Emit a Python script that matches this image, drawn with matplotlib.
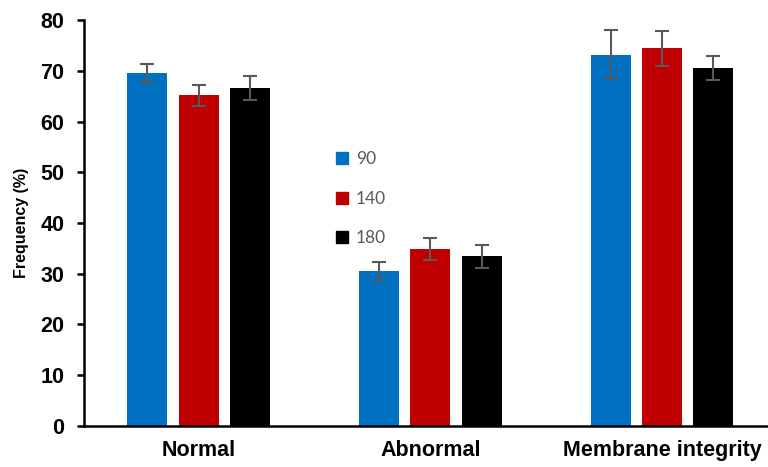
import numpy as np
import matplotlib.pyplot as plt
from matplotlib.lines import Line2D

categories = ['Normal', 'Abnormal', 'Membrane integrity']
series = ['90', '140', '180']
vals_90 = [69.6, 30.5, 73.2]
vals_140 = [65.2, 34.9, 74.4]
vals_180 = [66.6, 33.4, 70.5]
err_90 = [1.8, 1.85, 4.75]
err_140 = [2.1, 2.1, 3.4]
err_180 = [2.3, 2.35, 2.4]
colors = ['#0070C0', '#C00000', '#000000']

fig = plt.figure(figsize=(7.68, 4.67), dpi=100)
ax = fig.add_axes([0.109, 0.088, 0.891, 0.869])

x = np.arange(len(categories))
w = 0.173
step = 0.222
handles = []
for i, (v, e, c) in enumerate(zip([vals_90, vals_140, vals_180],
                                  [err_90, err_140, err_180], colors)):
    ax.bar(x + (i - 1) * step, v, width=w, color=c, zorder=2)
    ax.errorbar(x + (i - 1) * step, v, yerr=e, fmt='none', ecolor='#595959',
                elinewidth=1.5, capsize=5, capthick=1.5, zorder=3)
    handles.append(Line2D([], [], marker='s', ls='none', color=c, markersize=9))

ax.set_xlim(-0.497, 2.458)
ax.set_ylim(0, 80)
ax.set_yticks(range(0, 81, 10))
ax.set_xticks(x)
ax.set_xticklabels(categories, fontsize=15.5, fontweight='bold', family='Liberation Sans')
for lab in ax.get_yticklabels():
    lab.set_fontsize(15.5)
    lab.set_fontweight('bold')
    lab.set_family('Liberation Sans')
ax.tick_params(axis='x', length=0, pad=10)
ax.tick_params(axis='y', length=5, width=1.8, direction='out', pad=9)
ax.set_ylabel('Frequency (%)', fontsize=11.5, fontweight='bold', family='Liberation Sans', labelpad=8)

for s in ['top', 'right']:
    ax.spines[s].set_visible(False)
for s in ['left', 'bottom']:
    ax.spines[s].set_linewidth(1.8)

leg = ax.legend(handles, series, loc='upper left', bbox_to_anchor=(0.347, 0.715),
                frameon=False, handlelength=0.6, handletextpad=0.5,
                labelspacing=1.35, prop={'family': 'Lato', 'size': 12.5})
for t in leg.get_texts():
    t.set_color('#595959')

fig.savefig('out.png', dpi=100)
